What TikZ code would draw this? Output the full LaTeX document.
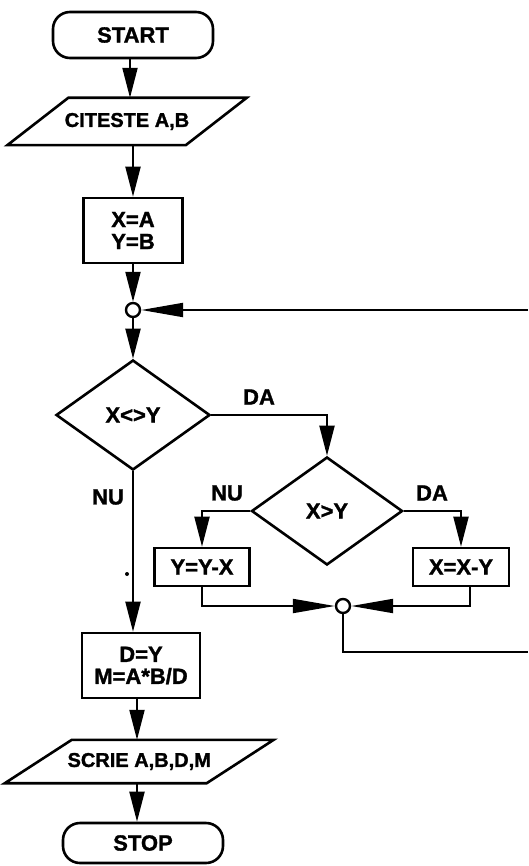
\documentclass[tikz,border=0pt]{standalone}
\usepackage{fontspec}
\setmainfont{Liberation Sans}[BoldFeatures={FakeBold=1.4}]
\usetikzlibrary{arrows.meta,shapes.geometric,calc}
\newcommand\parabox[2]{%
  \draw[line width=2.6pt] ($(#1.north west)+(#2,0)$) -- ($(#1.north east)+(#2,0)$)
    -- ($(#1.south east)-(#2,0)$) -- ($(#1.south west)-(#2,0)$) -- cycle;}
\begin{document}
\begin{tikzpicture}[x=1pt,y=-1pt,
  every node/.style={font=\fontsize{22}{22}\selectfont\bfseries},
  iotext/.style={font=\fontsize{20}{22}\selectfont\bfseries},
  box/.style={draw,line width=2.6pt,inner sep=0pt,align=center},
  term/.style={box,rounded corners=17pt},
  iobox/.style={inner sep=0pt,align=center,iotext},
  dec/.style={draw,line width=2.6pt,diamond,inner sep=0pt,aspect=1.4},
  junc/.style={draw,circle,line width=2.4pt,minimum size=14pt,inner sep=0pt,fill=white},
  link/.style={line width=2pt},
  arr/.style={link,-{Triangle[length=30pt,width=15pt]}},
  harr/.style={link,-{Triangle[length=42pt,width=14pt]}}
]
\useasboundingbox (0,0) rectangle (528,866);

% nodes
\node[term,minimum width=160pt,minimum height=46pt] (start) at (133,35) {START};
\node[iobox,minimum width=178pt,minimum height=47pt] (cit) at (127,121.5) {CITESTE A,B};
\parabox{cit}{30.5}
\node[box,minimum width=99pt,minimum height=65pt] (b1) at (133,230.5) {X=A\\Y=B};
\node[junc] (c1) at (133,310) {};
\node[dec,minimum width=154pt,minimum height=110pt] (d1) at (133,415) {X<>Y};
\node[dec,minimum width=151pt,minimum height=108pt] (d2) at (327,511) {X>Y};
\node[box,minimum width=95pt,minimum height=38pt] (b2) at (202,567) {Y=Y-X};
\node[box,minimum width=96pt,minimum height=38pt] (b3) at (461,567) {X=X-Y};
\node[junc] (c2) at (343,606) {};
\node[box,minimum width=118pt,minimum height=65pt] (b4) at (141,665.5) {D=Y\\M=A*B/D};
\node[iobox,minimum width=201.5pt,minimum height=43pt] (scr) at (139.25,761.5) {SCRIE A,B,D,M};
\parabox{scr}{33.5}
\node[term,minimum width=160pt,minimum height=40pt] (stop) at (143,843) {STOP};

\coordinate (r1) at (528,310);
\coordinate (r2) at (528,652);

% labels
\node (da1) at (259,397) {DA};
\node (nu1) at (108,497) {NU};
\node (nu2) at (227,493) {NU};
\node (da2) at (432,493) {DA};
\fill (127,574) circle (2pt);

% connectors
\draw[arr] (start.south -| 130,0) -- (cit.north -| 130,0);
\draw[arr] (cit.south -| b1.north) -- (b1.north);
\draw[arr] (b1.south) -- (c1.north);
\draw[harr] (r1) -- (c1.east);
\draw[arr] (c1.south) -- (d1.north);
\draw[arr] (d1.east) -| (d2.north);
\draw[arr] (d2.west) -| (b2.north);
\draw[arr] (d2.east) -| (b3.north);
\draw[harr] (b2.south) |- (c2.west);
\draw[harr] ([xshift=9pt]b3.south) |- (c2.east);
\draw[link] (c2.south) |- (r2);
\draw[arr] (d1.south) -- (d1.south |- b4.north);
\draw[arr] ([xshift=-4pt]b4.south) -- ([xshift=-4pt]b4.south |- scr.north);
\draw[arr] (scr.south -| 137,0) -- (stop.north -| 137,0);
\end{tikzpicture}
\end{document}
